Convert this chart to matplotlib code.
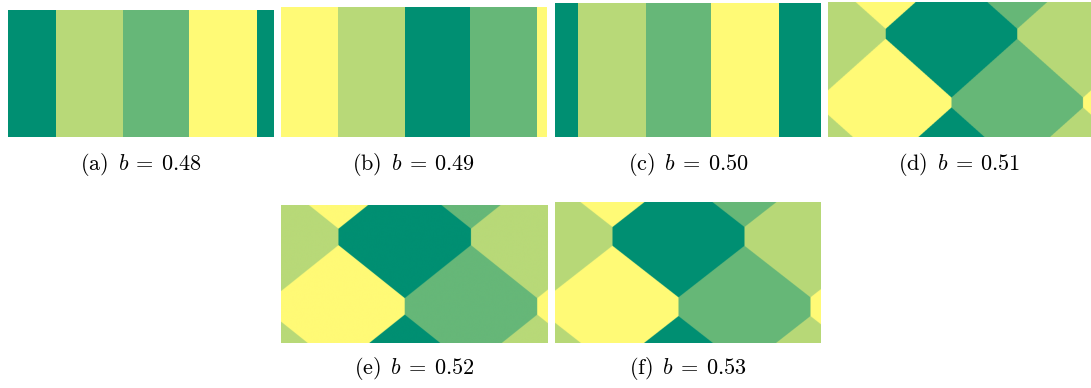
import numpy as np
import matplotlib.pyplot as plt
from matplotlib.colors import to_rgb

plt.rcParams['mathtext.fontset'] = 'cm'

# state colours: 0 dark teal, 1 medium green, 2 light green, 3 yellow
colors = ['#008f72', '#66b778', '#b8d978', '#fffa76']

letters = ['a', 'b', 'c', 'd', 'e', 'f']
b_values = ['0.48', '0.49', '0.50', '0.51', '0.52', '0.53']

# stripe states (a)-(c): boundaries along x (panel pixels) and state of each stripe
stripe_edges = [[0, 48, 115.3, 181.3, 248.7, 266],
                [0, 57.3, 124, 189.3, 256, 266],
                [0, 23.3, 90.7, 156.3, 224, 266]]
stripe_states = [[0, 2, 1, 3, 0],
                 [3, 2, 0, 1, 3],
                 [0, 2, 1, 3, 0]]

# diamond states (d)-(f): lattice of domains, L1-type metric |dx| + k|dy|
lat_cx = [123.5, 123.3, 123.5]   # centre of the dark domain
lat_cy = [31.8, 32.8, 34.4]
lat_a = [65.8, 66.0, 66.0]       # half horizontal spacing
lat_h = [68.7, 69.2, 70.3]       # row spacing
lat_k = [1.12, 1.25, 1.28]       # anisotropy

# panel boxes in pixels: left, top, width, height
boxes = [(8, 10, 266, 127), (281, 6.7, 266, 130.3), (555, 3.3, 266, 133.7),
         (828, 2, 263, 135), (281, 205, 266, 138.3), (555, 202.3, 266, 141)]
cap_y = [164, 164, 164, 164, 369, 369]

FW, FH = 1091, 388
fig = plt.figure(figsize=(FW / 100, FH / 100), dpi=100)
rgb = np.array([to_rgb(c) for c in colors])

for n, (x, y, w, h) in enumerate(boxes):
    ax = fig.add_axes([x / FW, 1 - (y + h) / FH, w / FW, h / FH])
    ax.set_xlim(0, w)
    ax.set_ylim(h, 0)
    ax.axis('off')
    if n < 3:
        e = stripe_edges[n]
        for s in range(len(stripe_states[n])):
            ax.axvspan(e[s], e[s + 1], color=colors[stripe_states[n][s]], lw=0)
    else:
        m = n - 3
        xs = np.arange(0, w, 0.25) + 0.125
        ys = np.arange(0, h, 0.25) + 0.125
        X, Y = np.meshgrid(xs, ys)
        best = np.full(X.shape, np.inf)
        lab = np.zeros(X.shape, dtype=int)
        for i in range(-4, 7):
            for j in range(-3, 5):
                if (i - j) % 2:
                    continue
                d = (np.abs(X - (lat_cx[m] + lat_a[m] * i))
                     + lat_k[m] * np.abs(Y - (lat_cy[m] + lat_h[m] * j)))
                mask = d < best
                best[mask] = d[mask]
                lab[mask] = i % 4
        ax.imshow(rgb[lab], extent=[0, w, h, 0], aspect='auto',
                  interpolation='antialiased')
    caption = r'$\mathrm{(%s)}\enspace b\:=\:%s$' % (letters[n], b_values[n])
    fig.text((x + w / 2) / FW, 1 - cap_y[n] / FH, caption,
             fontsize=16, ha='center', va='center')

fig.savefig('out.png', dpi=100)
